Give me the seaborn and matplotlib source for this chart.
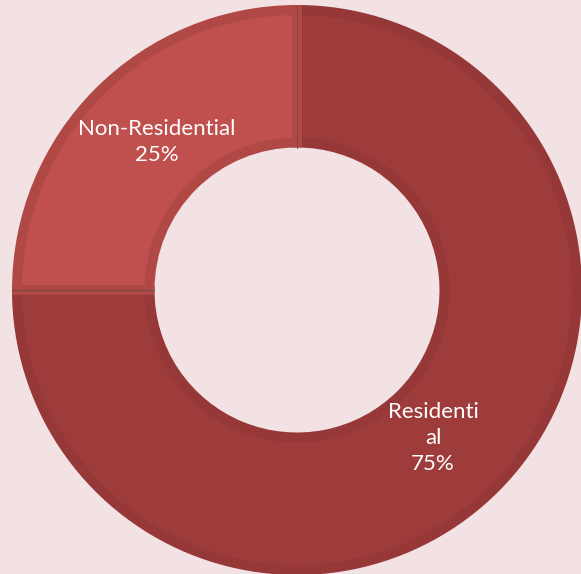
import matplotlib.pyplot as plt
import seaborn as sns

# data
categories = ['Residential', 'Non-Residential']
shares = [75, 25]
labels = ['Residenti\nal\n75%', 'Non-Residential\n25%']

fill_colors = ['#9E3B3B', '#C0504D']
edge_colors = ['#963838', '#B04946']

sns.set_theme(style='white')
plt.rcParams['font.family'] = ['Lato', 'DejaVu Sans']

bg = '#F3E2E3'
W, H = 581, 574
cx, cy, R = 297, 290, 285  # pixel centre / outer radius

fig = plt.figure(figsize=(W / 100, H / 100), dpi=100)
fig.patch.set_facecolor(bg)
ax = fig.add_axes([0, 0, 1, 1])
ax.set_facecolor(bg)

band = 5 / R
wedges, _ = ax.pie(shares, startangle=90, counterclock=False,
                   radius=1 - band, colors=fill_colors,
                   wedgeprops=dict(width=0.5 - 2 * band, linewidth=10 * 0.72,
                                   joinstyle='miter'))
for w, ec in zip(wedges, edge_colors):
    w.set_edgecolor(ec)

# thin separator lines between the two slices
ax.plot([-1, -0.5], [0, 0], color='#7E4A4A', lw=1.0, zorder=5)
ax.plot([0, 0], [0.5, 1], color='#8A4545', lw=0.8, zorder=5)

label_pos = [(433, 438), (157, 142)]
for lab, (px, py) in zip(labels, label_pos):
    ax.text((px - cx) / R, (cy - py) / R, lab, ha='center', va='center',
            color='white', fontsize=16, linespacing=1.35)

ax.set_xlim(-cx / R, (W - cx) / R)
ax.set_ylim(-(H - cy) / R, cy / R)
ax.set_aspect('auto')
ax.axis('off')

fig.savefig('out.png', dpi=100, facecolor=bg)
